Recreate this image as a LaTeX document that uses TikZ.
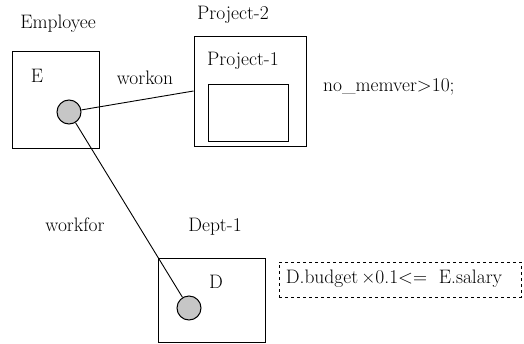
\documentclass[tikz,border=0pt]{standalone}
\begin{document}
\begin{tikzpicture}[x=1pt,y=-1pt,
  lbl/.style={inner sep=0pt,font=\fontsize{19.5}{21}\selectfont},
  box/.style={draw,line width=1pt,inner sep=0pt},
  dot/.style={circle,draw,line width=1pt,fill=gray!45,minimum size=24pt,inner sep=0pt},
  conn/.style={line width=0.9pt}]
\useasboundingbox (0,0) rectangle (524,343);
% Employee
\node[lbl] (emp) at (58,24) {Employee};
\node[box,minimum width=87pt,minimum height=97pt] (ebox) at (55.5,99.5) {};
\node[lbl] (e) at (37,76) {E};
\node[dot] (ec) at (69,112) {};
% Project
\node[lbl] (p2l) at (233,15) {Project-2};
\node[box,minimum width=112pt,minimum height=110pt] (p2) at (250,91) {};
\node[lbl] (p1l) at (243,61) {Project-1};
\node[box,minimum width=80pt,minimum height=57pt] (p1) at (248,112.5) {};
\node[lbl,anchor=west] (cons1) at (323,87) {no\_memver>10;};
% Dept
\node[lbl] (dl) at (215,227) {Dept-1};
\node[box,minimum width=107pt,minimum height=84pt] (dbox) at (211.5,300) {};
\node[lbl] (d) at (216,282) {D};
\node[dot] (dc) at (189,308) {};
% constraint
\node[draw,dashed,line width=0.6pt,minimum width=242pt,minimum height=35pt,inner sep=0pt] (cons2) at (400,279.5) {};
\node[lbl] (cons2t) at (394,279) {D.budget\,×0.1<=\ \ E.salary};
% connectors
\draw[conn] (ec) -- (p2.west);
\draw[conn] (ec) -- (dc);
\node[lbl] (won) at (145,78) {workon};
\node[lbl] (wfor) at (75,225) {workfor};
\end{tikzpicture}
\end{document}
